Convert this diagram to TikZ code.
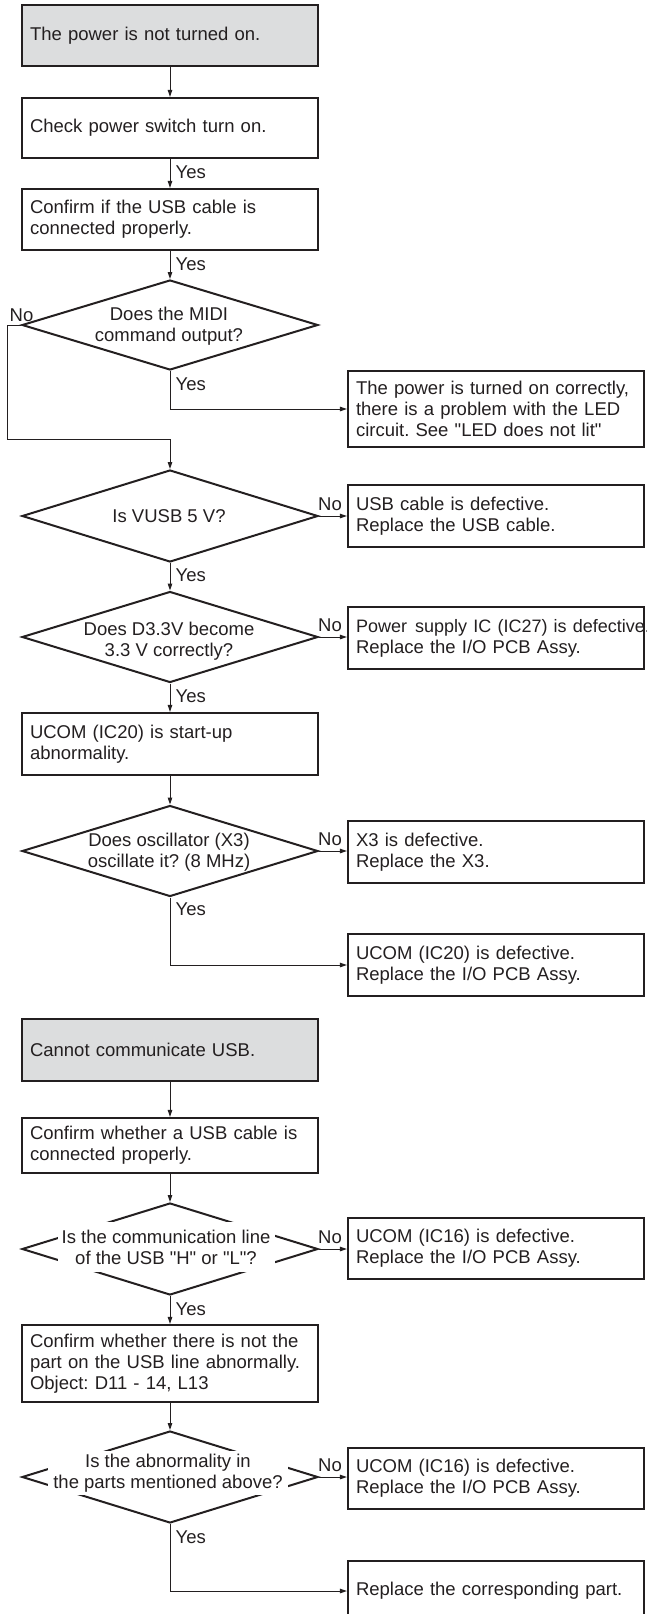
\documentclass[tikz,border=0pt]{standalone}
\usepackage{fontspec}
\setmainfont{Liberation Sans}[Ligatures=TeXOff]
\usetikzlibrary{shapes.geometric,arrows.meta,calc}
\definecolor{ink}{RGB}{35,31,32}
\definecolor{headgray}{RGB}{220,221,222}
\frenchspacing
\tikzset{
  every node/.style={font=\fontsize{18.5}{21}\selectfont\frenchspacing, text=ink},
  stepbox/.style={draw=ink, line width=2.2pt, rectangle, text width=280pt,
    inner xsep=8pt, inner ysep=0pt, align=left},
  headbox/.style={stepbox, fill=headgray},
  decision/.style={draw=ink, line width=2pt, diamond, minimum width=296pt, inner sep=0pt},
  qtext/.style={align=center, inner sep=0pt},
  conn/.style={draw=ink, line width=1pt, -{Triangle[length=7pt,width=4.5pt]}},
  lbl/.style={inner sep=0pt, anchor=base west},
}
\begin{document}
\begin{tikzpicture}[x=1pt,y=-1pt]
\useasboundingbox (0,0) rectangle (647,1614);
\clip (0,0) rectangle (647,1614);

% ---- first chart: power not on ----
\node[headbox, minimum height=61pt] (p0) at (170,35.5) {The power is not turned on.};
\node[stepbox, minimum height=60pt] (p1) at (170,128) {Check power switch turn on.};
\node[stepbox, minimum height=61pt] (p2) at (170,219.5) {Confirm if the USB cable is\\connected properly.};

\node[decision, minimum height=90pt] (q1) at (170,325) {};
\node[qtext] (q1t) at (169,326.5) {Does the MIDI\\command output?};
\node[stepbox, minimum height=76pt] (led) at (496,409) {The power is turned on correctly,\\there is a problem with the LED\\circuit. See "LED does not lit"};

\node[decision, minimum height=92pt] (q2) at (170,516) {};
\node[qtext] (q2t) at (169,516) {Is VUSB 5 V?};
\node[stepbox, minimum height=62pt] (usb) at (496,516) {USB cable is defective.\\Replace the USB cable.};

\node[decision, minimum height=91pt] (q3) at (170,637) {};
\node[qtext] (q3t) at (169,641) {Does D3.3V become\\3.3 V correctly?};
\node[stepbox, minimum height=62pt] (psu) at (496,638)
  {\mbox{\fontsize{18}{21}\selectfont Power\kern2pt\ supply IC (IC27) is defective.}\\Replace the I/O PCB Assy.};

\node[stepbox, minimum height=62pt] (ucom) at (170,744) {UCOM (IC20) is start-up\\abnormality.};

\node[decision, minimum height=91pt] (q4) at (170,851) {};
\node[qtext] (q4t) at (169,852.5) {Does oscillator (X3)\\oscillate it? (8 MHz)};
\node[stepbox, minimum height=62pt] (x3) at (496,852) {X3 is defective.\\Replace the X3.};
\node[stepbox, minimum height=62pt] (ic20) at (496,965) {UCOM (IC20) is defective.\\Replace the I/O PCB Assy.};

% ---- second chart: USB communication ----
\node[headbox, minimum height=62pt] (u0) at (170,1050) {Cannot communicate USB.};
\node[stepbox, minimum height=55pt] (u1) at (170,1145.5) {Confirm whether a USB cable is\\connected properly.};

\node[decision, minimum height=92pt] (q5) at (170,1249) {};
\node[qtext, fill=white, minimum width=217pt, minimum height=50pt] (q5t) at (166,1247)
  {Is the communication line\\of the USB "H" or "L"?};
\node[stepbox, minimum height=61pt] (ic16a) at (496,1248.5) {UCOM (IC16) is defective.\\Replace the I/O PCB Assy.};

\node[stepbox, minimum height=77pt] (u2) at (170,1363.5) {Confirm whether there is not the\\part on the USB line abnormally.\\Object: D11 - 14, L13};

\node[decision, minimum height=92pt] (q6) at (170,1477) {};
\node[qtext, fill=white, minimum width=240pt, minimum height=44pt] (q6t) at (168,1473) {Is the abnormality in\\the parts mentioned above?};
\node[stepbox, minimum height=61pt] (ic16b) at (496,1478.5) {UCOM (IC16) is defective.\\Replace the I/O PCB Assy.};
\node[stepbox, minimum height=60pt] (repl) at (496,1591) {Replace the corresponding part.};

% ---- connectors ----
\coordinate (loop) at (7.5,439);
\draw[conn] (p0) -- (p1);
\draw[conn] (p1) -- (p2);
\draw[conn] (p2) -- (q1);
\draw[conn] (q1.west) -| (loop) -| (q2.north);
\draw[conn] (q1.south) |- (led.west);
\draw[conn] (q2.east) -- (q2.east -| usb.west);
\draw[conn] (q2) -- (q3);
\draw[conn] (q3.east) -- (q3.east -| psu.west);
\draw[conn] (q3) -- (ucom);
\draw[conn] (ucom) -- (q4);
\draw[conn] (q4.east) -- (q4.east -| x3.west);
\draw[conn] (q4.south) |- (ic20.west);
\draw[conn] (u0) -- (u1);
\draw[conn] (u1) -- (q5);
\draw[conn] (q5.east) -- (q5.east -| ic16a.west);
\draw[conn] (q5.south) -- (u2);
\draw[conn] (u2) -- (q6);
\draw[conn] (q6.east) -- (q6.east -| ic16b.west);
\draw[conn] (q6.south) |- (repl.west);

% ---- branch labels ----
\node[lbl] (n1) at (9.5,321.5) {No};
\node[lbl] (n2) at ($(q2.east)+(-1,-6)$) {No};
\node[lbl] (n3) at ($(q3.east)+(-1,-6)$) {No};
\node[lbl] (n4) at ($(q4.east)+(-1,-6)$) {No};
\node[lbl] (n5) at ($(q5.east)+(-1,-6)$) {No};
\node[lbl] (n6) at ($(q6.east)+(-1,-6)$) {No};

\node[lbl] (y1) at ($(p1.south)+(5.5,19)$) {Yes};
\node[lbl] (y2) at ($(p2.south)+(5.5,19)$) {Yes};
\node[lbl] (y3) at ($(q1.south)+(5.5,19)$) {Yes};
\node[lbl] (y4) at ($(q2.south)+(5.5,18)$) {Yes};
\node[lbl] (y5) at ($(q3.south)+(5.5,19)$) {Yes};
\node[lbl] (y6) at ($(q4.south)+(5.5,18)$) {Yes};
\node[lbl] (y7) at ($(q5.south)+(5.5,19)$) {Yes};
\node[lbl] (y8) at ($(q6.south)+(5.5,19)$) {Yes};
\end{tikzpicture}
\end{document}
